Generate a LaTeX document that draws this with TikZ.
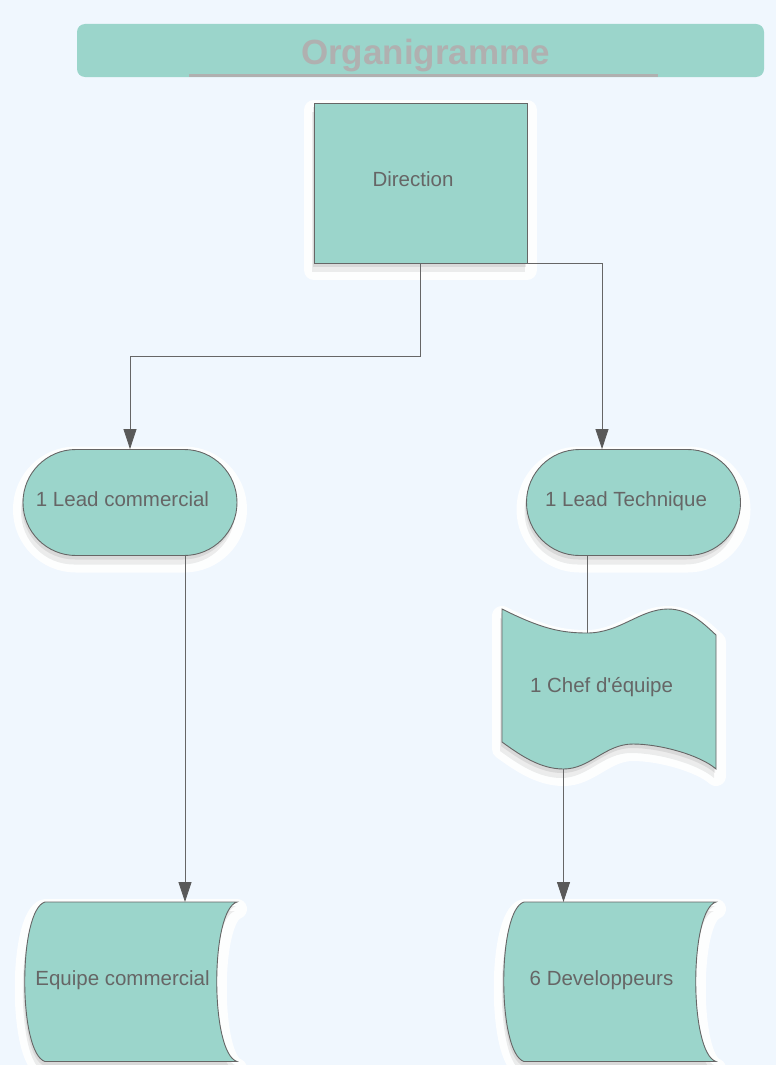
\documentclass[tikz,border=0pt]{standalone}
\usepackage{fontspec}
\setmainfont{Liberation Sans}
\usetikzlibrary{arrows.meta}

\definecolor{pagebg}{HTML}{F0F7FE}
\definecolor{boxfill}{HTML}{9BD5CB}
\definecolor{boxline}{HTML}{666666}
\definecolor{boxtxt}{HTML}{666666}
\definecolor{titlegray}{HTML}{B0B0B0}
\definecolor{tipgray}{HTML}{595959}

\tikzset{
  glow/.style={
    preaction={draw=white, fill=white, line width=20pt, line join=round,
      opacity=0.9, transform canvas={yshift=-7pt}},
    preaction={fill=black, opacity=0.07, transform canvas={xshift=-2pt, yshift=-9pt}},
    preaction={fill=black, opacity=0.08, transform canvas={xshift=-1pt, yshift=-4pt}}},
  orgbox/.style={draw=boxline, fill=boxfill, line width=0.9pt, glow},
  orgtext/.style={text=boxtxt, font=\fontsize{20.5}{24}\selectfont,
    text height=15pt, text depth=4pt, xshift=-7.5pt, yshift=2pt},
  link/.style={draw=boxline, line width=0.8pt},
  arrowlink/.style={link, -{Triangle[length=20pt, width=13pt, color=tipgray]}}
}

\begin{document}
\begin{tikzpicture}[x=1pt, y=-1pt]
  \useasboundingbox (0,0) rectangle (776,1065);
  \fill[pagebg] (0,0) rectangle (776,1065);

  % title
  \node[fill=boxfill, rounded corners=8pt, minimum width=687pt, minimum height=53pt,
    label={[text=titlegray, font=\fontsize{35}{40}\selectfont\bfseries,
      text height=26pt, text depth=7pt, xshift=5pt, yshift=-4pt]center:Organigramme}]
    (title) at (420.5,50.5) {};
  \draw[titlegray, line width=3pt] (189,75.5) -- (658,75.5);

  % outlines of the wave and stored data boxes
  \draw[orgbox] (502,609) .. controls (540,628) and (560,633) .. (587,633)
    .. controls (620,633) and (640,609) .. (668,609)
    .. controls (690,609) and (705,625) .. (716,635) -- (716,769)
    .. controls (700,755) and (660,744) .. (633,744)
    .. controls (605,744) and (590,769) .. (563.5,769)
    .. controls (540,769) and (520,755) .. (502,742) -- cycle;
  \draw[orgbox] (45,902) -- (237,902) .. controls (210,910) and (210,1053) .. (237,1061.5)
    -- (45,1061.5) .. controls (18,1053) and (18,910) .. cycle;
  \draw[orgbox] (524,902) -- (716,902) .. controls (689,910) and (689,1053) .. (716,1061.5)
    -- (524,1061.5) .. controls (497,1053) and (497,910) .. cycle;

  \node[orgbox, minimum width=213pt, minimum height=160pt,
    label={[orgtext]center:Direction}] (dir) at (420.5,183) {};
  \node[orgbox, rounded corners=52.9pt, minimum width=214pt, minimum height=106pt,
    label={[orgtext]center:1 Lead commercial}] (lc) at (130,502.5) {};
  \node[orgbox, rounded corners=52.9pt, minimum width=214pt, minimum height=106pt,
    label={[orgtext]center:1 Lead Technique}] (lt) at (633.5,502.5) {};
  \node[outer sep=0pt, minimum width=214pt, minimum height=160pt,
    label={[orgtext]center:1 Chef d\textquotesingle équipe}] (chef) at (609,689) {};
  \node[outer sep=0pt, minimum width=214pt, minimum height=159.5pt,
    label={[orgtext]center:Equipe commercial}] (ec) at (130,981.75) {};
  \node[outer sep=0pt, minimum width=214pt, minimum height=159.5pt,
    label={[orgtext]center:6 Developpeurs}] (dev) at (609,981.75) {};

  \coordinate (chefin) at (587,633);
  \coordinate (chefout) at (563.5,769);

  \draw[arrowlink] (dir.south) -- ++(0,93) -| (lc.north);
  \draw[arrowlink] (dir.south east) -| ([xshift=-31.5pt]lt.north);
  \draw[arrowlink] ([xshift=55pt]lc.south) -- ([xshift=55pt]ec.north);
  \draw[link] ([xshift=-46.5pt]lt.south) -- (chefin);
  \draw[arrowlink] (chefout) -- (chefout |- dev.north);
\end{tikzpicture}
\end{document}
